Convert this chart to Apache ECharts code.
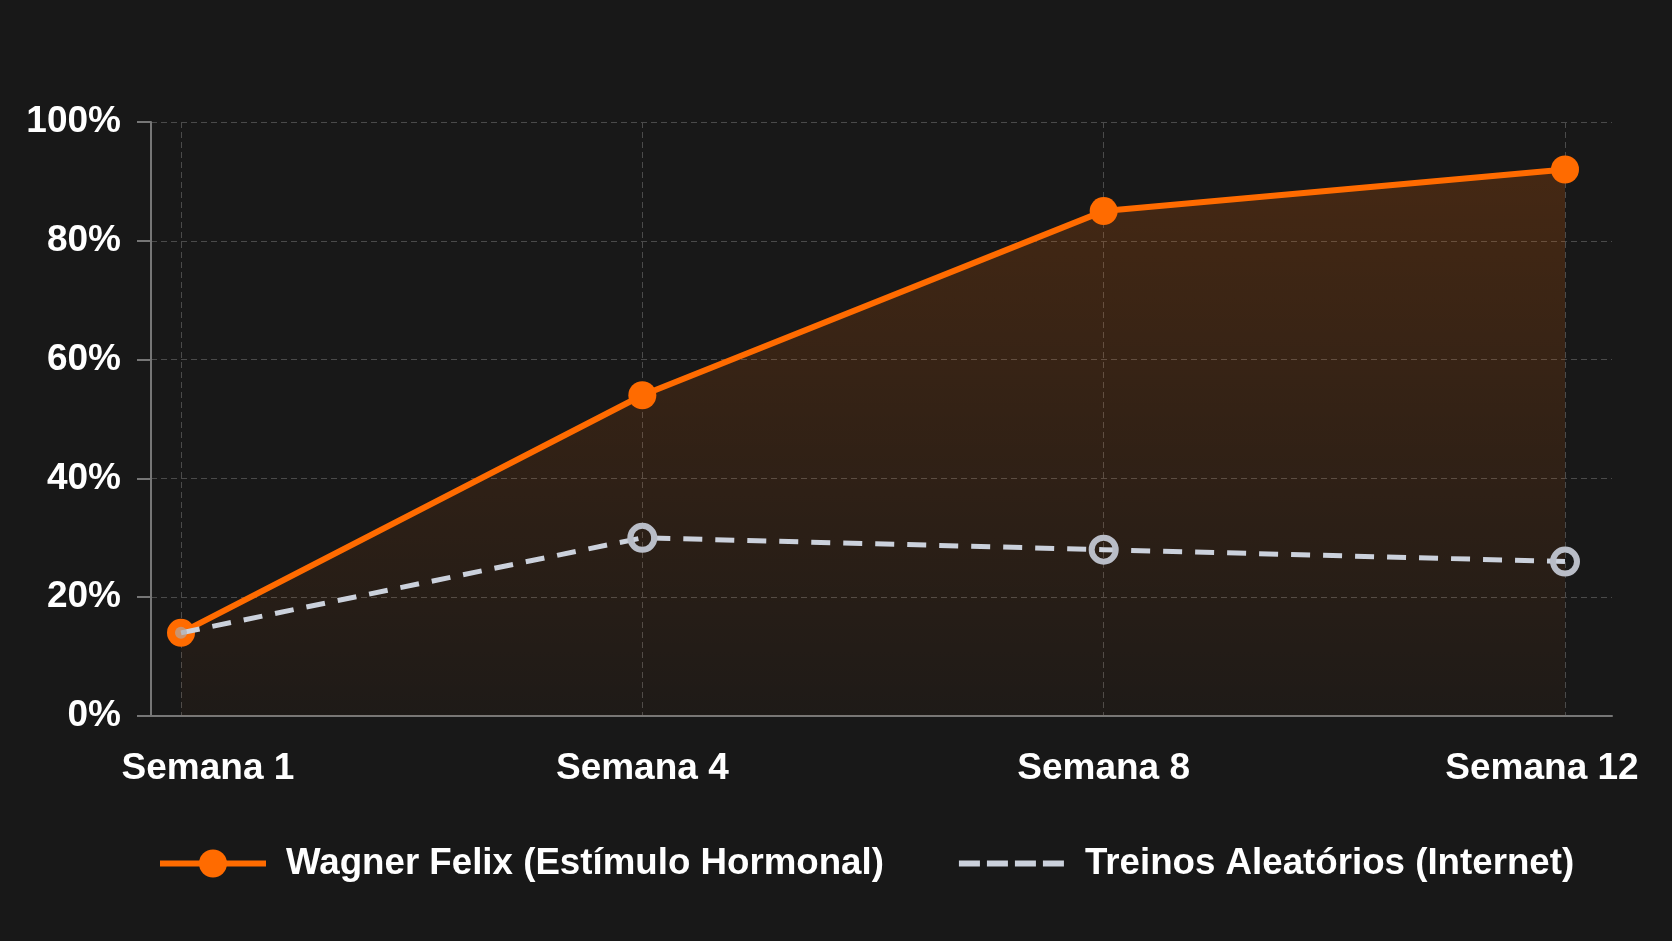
<!DOCTYPE html>
<html>
<head>
<meta charset="utf-8">
<script src="https://cdn.jsdelivr.net/npm/echarts@6/dist/echarts.min.js"></script>
<style>
html,body{margin:0;padding:0;background:#181818;}
#chart{width:1672px;height:941px;}
</style>
</head>
<body>
<div id="chart"></div>
<script>
const categories = ['Semana 1', 'Semana 4', 'Semana 8', 'Semana 12'];
const wagnerValues = [14, 54, 85, 92];
const aleatoriosValues = [14, 30, 28, 26];
const seriesNames = ['Wagner Felix (Estímulo Hormonal)', 'Treinos Aleatórios (Internet)'];
const yTicks = { min: 0, max: 100, interval: 20 };

const FONT = '"Liberation Sans", Arial, sans-serif';
const FS = 37;
const LEGEND_FS = 36.7;
const ORANGE = '#FF6B00';
const GREY_LINE = '#CBD1DC';
const GREY_MARK = '#B9BDC7';
const AXIS = '#767676';
const GRID = '#4a4a4a';

const chart = echarts.init(document.getElementById('chart'), null, { renderer: 'canvas' });

// grey series: where it meets the orange point, show a soft grey centre instead of the ring
const greyData = aleatoriosValues.map(function (v, i) {
  if (v === wagnerValues[i]) {
    return { value: v, symbolSize: 12, itemStyle: { color: 'rgba(175,170,170,0.65)', borderWidth: 0 } };
  }
  return v;
});

const option = {
  backgroundColor: '#181818',
  animation: false,
  grid: [
    { left: 151, right: 60, top: 122, bottom: 225 },
    { left: 181, right: 107, top: 122, bottom: 225 }
  ],
  xAxis: [
    {
      gridIndex: 0, type: 'value', min: 0, max: 1, offset: 3,
      axisLine: { show: true, lineStyle: { color: AXIS, width: 2 } },
      axisTick: { show: false }, axisLabel: { show: false }, splitLine: { show: false }
    },
    {
      gridIndex: 1, type: 'category', data: categories, boundaryGap: false,
      axisLine: { show: false }, axisTick: { show: false },
      splitLine: { show: true, lineStyle: { color: GRID, width: 1, type: [6, 4] } },
      axisLabel: {
        color: '#ffffff', fontSize: FS, fontWeight: 'bold', fontFamily: FONT, margin: 34,
        formatter: function (v, i) {
          if (i === 0) return '{first|' + v + '}';
          if (i === categories.length - 1) return '{last|' + v + '}';
          return v;
        },
        rich: {
          first: { color: '#ffffff', fontSize: FS, fontWeight: 'bold', fontFamily: FONT, padding: [0, 0, 0, 54] },
          last: { color: '#ffffff', fontSize: FS, fontWeight: 'bold', fontFamily: FONT, padding: [0, 46, 0, 0] }
        }
      }
    }
  ],
  yAxis: [
    {
      gridIndex: 0, type: 'value', min: yTicks.min, max: yTicks.max, interval: yTicks.interval,
      axisLine: { show: true, lineStyle: { color: AXIS, width: 2 } },
      axisTick: { show: true, length: 14, lineStyle: { color: AXIS, width: 2 } },
      splitLine: { show: true, lineStyle: { color: GRID, width: 1, type: [6, 4] } },
      axisLabel: { formatter: '{value}%', color: '#ffffff', fontSize: FS, fontWeight: 'bold', fontFamily: FONT, margin: 30 }
    },
    {
      gridIndex: 1, type: 'value', min: yTicks.min, max: yTicks.max, show: false
    }
  ],
  legend: {
    left: 152, top: 840,
    itemWidth: 106, itemHeight: 35, itemGap: 72,
    textStyle: { color: '#ffffff', fontSize: LEGEND_FS, fontWeight: 'bold', fontFamily: FONT, padding: [0, 0, 0, 15] },
    data: [
      { name: seriesNames[0], lineStyle: { width: 6, type: 'solid' } },
      { name: seriesNames[1], lineStyle: { width: 6, type: [21, 7] }, itemStyle: { opacity: 0 } }
    ]
  },
  series: [
    {
      name: seriesNames[0], type: 'line', xAxisIndex: 1, yAxisIndex: 1,
      data: wagnerValues,
      symbol: 'circle', symbolSize: 28,
      lineStyle: { color: ORANGE, width: 6 },
      itemStyle: { color: ORANGE },
      areaStyle: {
        color: new echarts.graphic.LinearGradient(0, 0, 0, 1, [
          { offset: 0, color: 'rgba(255,107,0,0.28)' },
          { offset: 1, color: 'rgba(255,107,0,0.04)' }
        ])
      },
      z: 2
    },
    {
      name: seriesNames[1], type: 'line', xAxisIndex: 1, yAxisIndex: 1,
      data: greyData,
      symbol: 'circle', symbolSize: 24,
      lineStyle: { color: GREY_LINE, width: 5, type: [19, 13] },
      itemStyle: { color: 'rgba(0,0,0,0)', borderColor: GREY_MARK, borderWidth: 6 },
      z: 3
    }
  ]
};
chart.setOption(option);
</script>
</body>
</html>
